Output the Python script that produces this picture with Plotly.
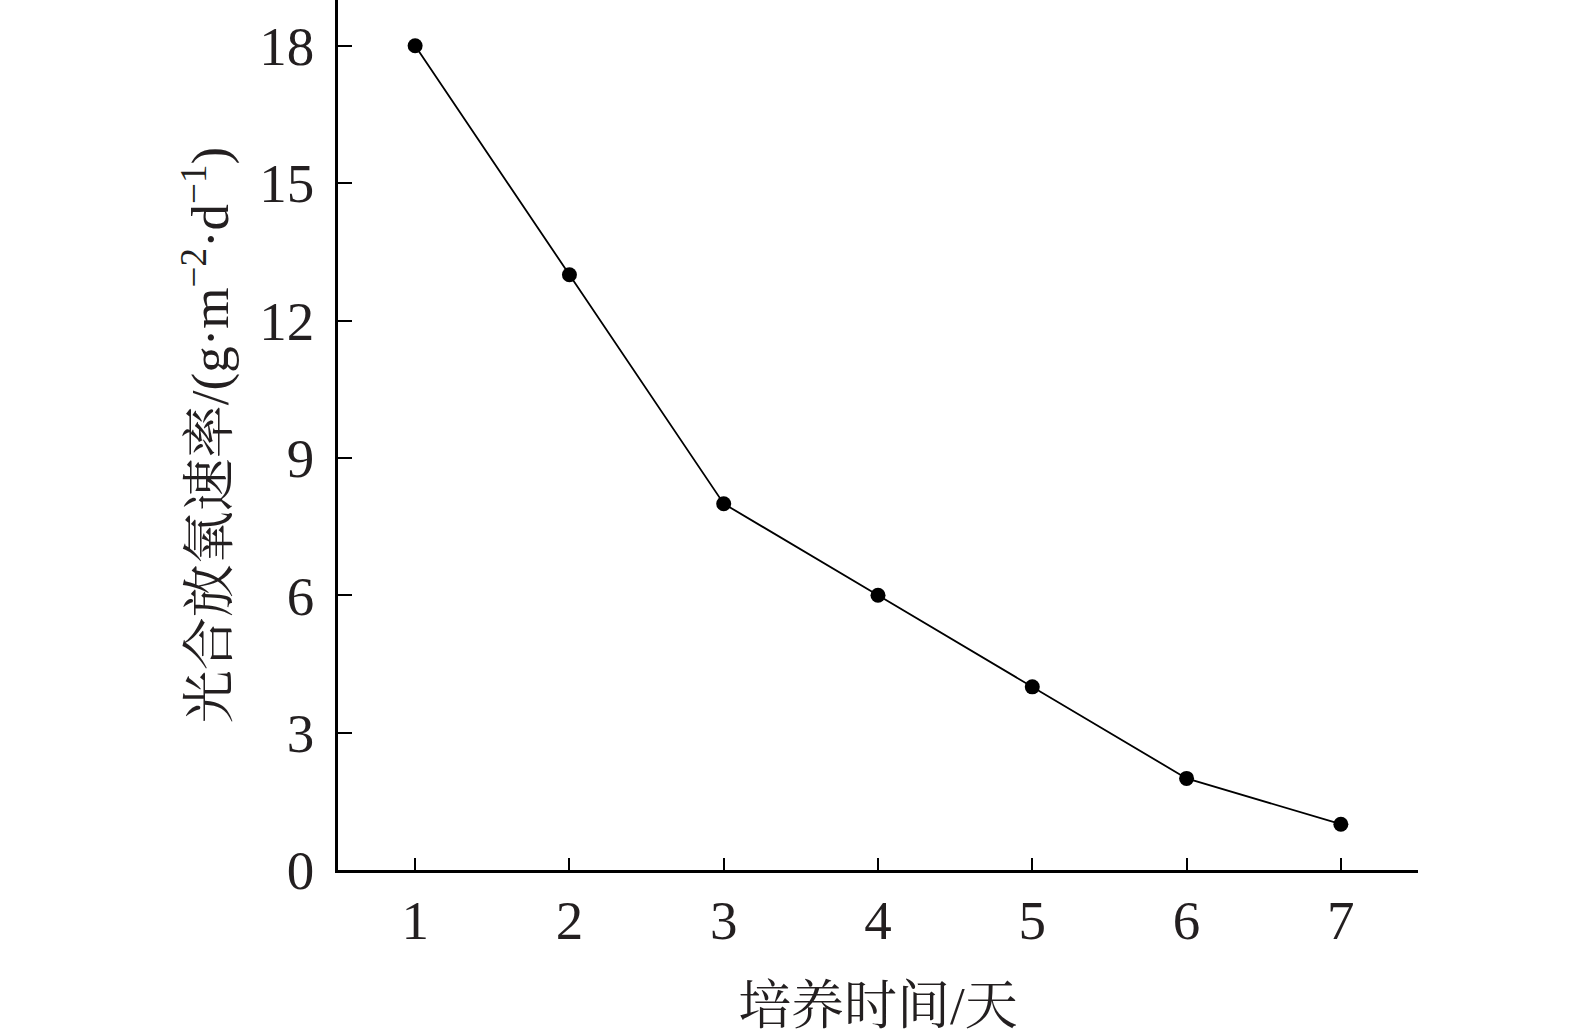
import plotly.graph_objects as go

# culture time (days) vs photosynthetic oxygen evolution rate
days = [1, 2, 3, 4, 5, 6, 7]
rate = [18, 13, 8, 6, 4, 2, 1]
y_ticks = [0, 3, 6, 9, 12, 15, 18]

serif = "Liberation Serif, Times New Roman, Noto Serif CJK SC, Noto Sans CJK SC"

fig = go.Figure()
fig.add_trace(go.Scatter(x=days, y=rate, mode="lines+markers",
                         line=dict(color="black", width=1.8),
                         marker=dict(color="black", size=15, symbol="circle")))

fig.update_layout(
    width=1575, height=1035,
    margin=dict(l=338, r=157, t=0, b=165),
    paper_bgcolor="white", plot_bgcolor="white",
    showlegend=False,
    font=dict(family=serif, color="#231f20", size=55),
)
fig.update_xaxes(range=[0.5, 7.5], tickvals=days, ticks="inside", ticklen=12,
                 tickwidth=2, tickcolor="black", showline=True, linecolor="black",
                 linewidth=2.5, showgrid=False, zeroline=False,
                 ticklabelstandoff=0, automargin=False,
                 title=dict(text="培养时间/天", font=dict(size=53), standoff=38))
fig.update_yaxes(range=[0, 19], tickvals=y_ticks, ticks="inside", ticklen=14,
                 tickwidth=2, tickcolor="black", showline=True, linecolor="black",
                 linewidth=2.5, showgrid=False, zeroline=False,
                 ticklabelstandoff=10, automargin=False,
                 title=dict(text="光合放氧速率/(g·m<sup>−2</sup>·d<sup>−1</sup>)",
                            font=dict(size=53), standoff=14))

# drop the page's default body margin and scrollbars so the figure fills the window
fig.write_html("out.html", config={"displayModeBar": False},
               post_script="document.body.style.margin='0';"
                           "document.documentElement.style.overflow='hidden';")
